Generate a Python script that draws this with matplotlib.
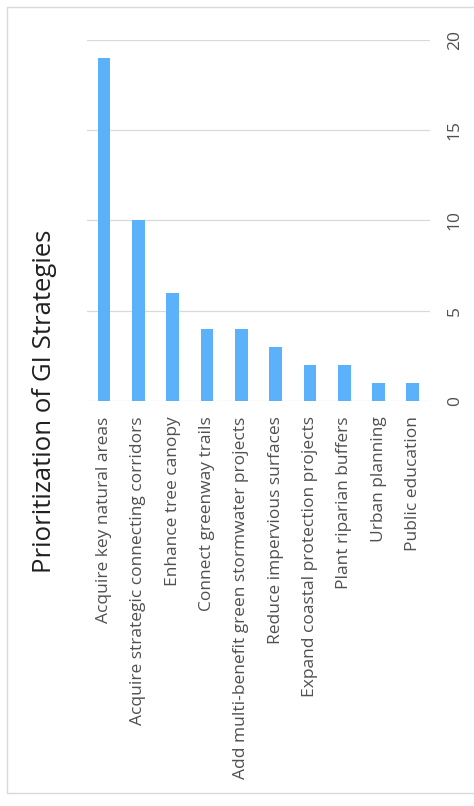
import matplotlib.pyplot as plt
from matplotlib.patches import Rectangle

strategies = [
    "Acquire key natural areas",
    "Acquire strategic connecting corridors",
    "Enhance tree canopy",
    "Connect greenway trails",
    "Add multi-benefit green stormwater projects",
    "Reduce impervious surfaces",
    "Expand coastal protection projects",
    "Plant riparian buffers",
    "Urban planning",
    "Public education",
]
counts = [19, 10, 6, 4, 4, 3, 2, 2, 1, 1]
value_ticks = [0, 5, 10, 15, 20]

plt.rcParams['font.family'] = ['Open Sans', 'DejaVu Sans']
text_color = '#505050'

fig = plt.figure(figsize=(4.74, 8.06), dpi=100)

# outer chart border
fig.patches.append(Rectangle((7 / 474, 13 / 806), 1.0, 786 / 806,
                             transform=fig.transFigure, fill=False,
                             edgecolor='#d9d9d9', linewidth=1.0))

ax = fig.add_axes([0.1835, 0.5025, 0.7236, 0.4479])
x = range(len(strategies))
ax.bar(x, counts, width=0.37, color='#5cb1fb', zorder=3)

ax.set_xlim(-0.5, len(strategies) - 0.5)
ax.set_ylim(0, 20)
ax.set_yticks(value_ticks)
ax.yaxis.tick_right()
ax.set_yticklabels([str(v) for v in value_ticks], rotation=90, va='center',
                   fontsize=12.5, color=text_color)
ax.tick_params(axis='y', length=0, pad=12)
ax.grid(axis='y', color='#d9d9d9', linewidth=0.9, zorder=0)

ax.set_xticks(list(x))
ax.set_xticklabels(strategies, rotation=90, fontsize=12.5, color=text_color,
                   va='top', ha='center')
ax.tick_params(axis='x', length=0, pad=11)

for s in ax.spines.values():
    s.set_visible(False)

fig.text(45 / 474, 1 - 401 / 806, "Prioritization of GI Strategies",
         rotation=90, ha='center', va='center', fontsize=18.5, color='#202020')

fig.savefig('out.png', dpi=100)
